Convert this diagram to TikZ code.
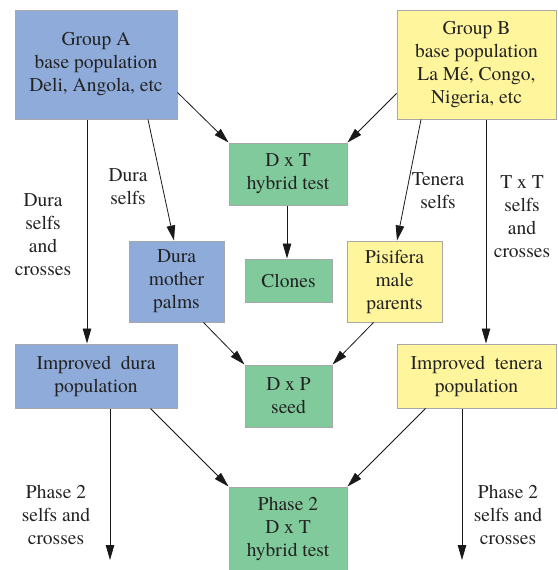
\documentclass[tikz,border=0pt]{standalone}
\usepackage{fontspec}
\setmainfont{TeX Gyre Termes}
\usetikzlibrary{arrows.meta}
\definecolor{bxblue}{HTML}{8EABD9}
\definecolor{bxgreen}{HTML}{80CA9C}
\definecolor{bxyellow}{HTML}{FFF59C}
\definecolor{bxedge}{HTML}{A8A8A8}
\definecolor{txt}{HTML}{222222}
\tikzset{
  box/.style={draw=bxedge, line width=1pt, align=center, inner sep=0pt, text=txt,
    font=\fontsize{19.5}{23}\selectfont},
  bluebox/.style={box, fill=bxblue},
  greenbox/.style={box, fill=bxgreen},
  yellowbox/.style={box, fill=bxyellow},
  lbl/.style={align=center, text=txt, font=\fontsize{19.5}{23}\selectfont},
  conn/.style={line width=0.8pt, draw=black!90, -{Triangle[length=15pt,width=8.5pt]}}
}
\begin{document}
\begin{tikzpicture}[x=1pt,y=-1pt]
\useasboundingbox (0,0) rectangle (557,570);
\fill[white] (0,0) rectangle (557,570);
% boxes
\node[bluebox, minimum width=162pt, minimum height=109pt] (GA) at (96,64.5) {Group A\\base population\\Deli, Angola, etc};
\node[yellowbox, minimum width=159pt, minimum height=109pt] (GB) at (476.5,64.5) {Group B\\base population\\La Mé, Congo,\\Nigeria, etc};
\node[greenbox, minimum width=118pt, minimum height=62pt] (DT) at (288,174) {D x T\\hybrid test};
\node[bluebox, minimum width=95pt, minimum height=81pt] (DM) at (176.5,281.5) {Dura\\mother\\palms};
\node[greenbox, minimum width=87pt, minimum height=43pt] (CL) at (288.5,280.5) {Clones};
\node[yellowbox, minimum width=95pt, minimum height=81pt] (PI) at (394.5,281.5) {Pisifera\\male\\parents};
\node[bluebox, minimum width=162pt, minimum height=64pt] (ID) at (96,376) {Improved\ \ dura\\population};
\node[greenbox, minimum width=87pt, minimum height=62pt] (DP) at (288.5,396) {D x P\\seed};
\node[yellowbox, minimum width=159pt, minimum height=64pt] (IT) at (476.5,376) {Improved\ \ tenera\\population};
\node[greenbox, minimum width=118pt, minimum height=84pt] (P2) at (288,529) {Phase 2\\D x T\\hybrid test};
% free ends
\coordinate (LEnd) at (110,560);
\coordinate (REnd) at (462,560);
% connectors
\draw[conn] ([yshift=27pt]GA.south east) -- (DT.north west);
\draw[conn] ([yshift=26pt]GB.south west) -- (DT.north east);
\draw[conn] ([xshift=-9pt]GA.south) -- ([xshift=-9pt]ID.north);
\draw[conn] ([xshift=52pt]GA.south) -- ([xshift=-2.5pt]DM.north);
\draw[conn] ([xshift=-55.5pt]GB.south) -- ([xshift=2.5pt]PI.north);
\draw[conn] ([xshift=9.5pt]GB.south) -- ([xshift=9.5pt]IT.north);
\draw[conn] ([xshift=-1pt]DT.south) -- ([xshift=-1.5pt]CL.north);
\draw[conn] ([xshift=-21pt]DM.south east) -- (DP.north west);
\draw[conn] ([xshift=27pt]PI.south west) -- (DP.north east);
\draw[conn] ([xshift=-27pt]ID.south east) -- (P2.north west);
\draw[conn] ([xshift=29pt]IT.south west) -- (P2.north east);
\draw[conn] ([xshift=14pt]ID.south) -- (LEnd);
\draw[conn] ([xshift=-14.5pt]IT.south) -- (REnd);
% labels
\node[lbl] (L1) at (43,235) {Dura\\selfs\\and\\crosses};
\node[lbl] (L2) at (128,187) {Dura\\selfs};
\node[lbl] (L3) at (438,191) {Tenera\\selfs};
\node[lbl] (L4) at (522,217) {T x T\\selfs\\and\\crosses};
\node[lbl] (L5) at (56,515) {Phase 2\\selfs and\\crosses};
\node[lbl] (L6) at (508,515) {Phase 2\\selfs and\\crosses};
\end{tikzpicture}
\end{document}
